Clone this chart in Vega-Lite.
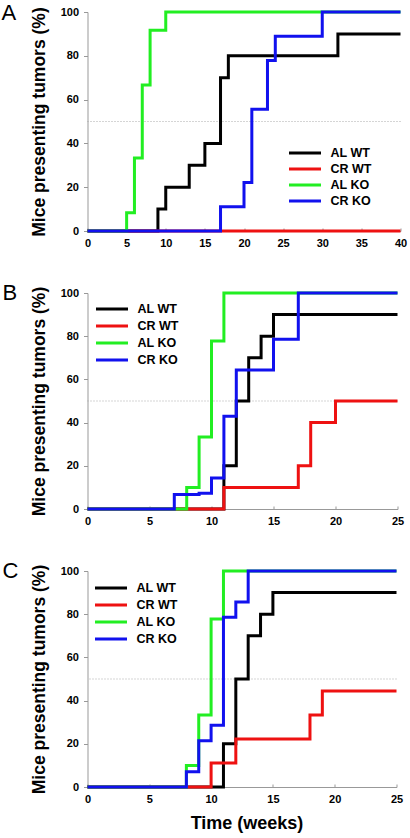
{
  "$schema": "https://vega.github.io/schema/vega-lite/v6.json",
  "background": "white",
  "padding": {"left": 1.5, "top": 2, "right": 2, "bottom": 2},
  "bounds": "flush",
  "spacing": 62,
  "datasets": {
    "A": [
      {"group": "AL WT", "week": 0, "pct": 0}, {"group": "AL WT", "week": 9, "pct": 10}, {"group": "AL WT", "week": 10, "pct": 20}, {"group": "AL WT", "week": 13, "pct": 30}, {"group": "AL WT", "week": 15, "pct": 40}, {"group": "AL WT", "week": 17, "pct": 70}, {"group": "AL WT", "week": 18, "pct": 80}, {"group": "AL WT", "week": 32, "pct": 90}, {"group": "AL WT", "week": 40, "pct": 90},
      {"group": "CR WT", "week": 0, "pct": 0}, {"group": "CR WT", "week": 40, "pct": 0},
      {"group": "AL KO", "week": 0, "pct": 0}, {"group": "AL KO", "week": 5, "pct": 8.3}, {"group": "AL KO", "week": 6, "pct": 33.3}, {"group": "AL KO", "week": 7, "pct": 66.7}, {"group": "AL KO", "week": 8, "pct": 91.7}, {"group": "AL KO", "week": 10, "pct": 100}, {"group": "AL KO", "week": 40, "pct": 100},
      {"group": "CR KO", "week": 0, "pct": 0}, {"group": "CR KO", "week": 17, "pct": 11.1}, {"group": "CR KO", "week": 20, "pct": 22.2}, {"group": "CR KO", "week": 21, "pct": 55.6}, {"group": "CR KO", "week": 23, "pct": 77.8}, {"group": "CR KO", "week": 24, "pct": 88.9}, {"group": "CR KO", "week": 30, "pct": 100}, {"group": "CR KO", "week": 40, "pct": 100}
    ],
    "B": [
      {"group": "AL WT", "week": 0, "pct": 0}, {"group": "AL WT", "week": 11, "pct": 20}, {"group": "AL WT", "week": 12, "pct": 50}, {"group": "AL WT", "week": 13, "pct": 70}, {"group": "AL WT", "week": 14, "pct": 80}, {"group": "AL WT", "week": 15, "pct": 90}, {"group": "AL WT", "week": 25, "pct": 90},
      {"group": "CR WT", "week": 0, "pct": 0}, {"group": "CR WT", "week": 11, "pct": 10}, {"group": "CR WT", "week": 17, "pct": 20}, {"group": "CR WT", "week": 18, "pct": 40}, {"group": "CR WT", "week": 20, "pct": 50}, {"group": "CR WT", "week": 25, "pct": 50},
      {"group": "AL KO", "week": 0, "pct": 0}, {"group": "AL KO", "week": 8, "pct": 10}, {"group": "AL KO", "week": 9, "pct": 33.3}, {"group": "AL KO", "week": 10, "pct": 77.8}, {"group": "AL KO", "week": 11, "pct": 100}, {"group": "AL KO", "week": 25, "pct": 100},
      {"group": "CR KO", "week": 0, "pct": 0}, {"group": "CR KO", "week": 7, "pct": 6.7}, {"group": "CR KO", "week": 9, "pct": 7.3}, {"group": "CR KO", "week": 10, "pct": 14.3}, {"group": "CR KO", "week": 11, "pct": 42.9}, {"group": "CR KO", "week": 12, "pct": 64.3}, {"group": "CR KO", "week": 15, "pct": 78.6}, {"group": "CR KO", "week": 17, "pct": 100}, {"group": "CR KO", "week": 25, "pct": 100}
    ],
    "C": [
      {"group": "AL WT", "week": 0, "pct": 0}, {"group": "AL WT", "week": 11, "pct": 20}, {"group": "AL WT", "week": 12, "pct": 50}, {"group": "AL WT", "week": 13, "pct": 70}, {"group": "AL WT", "week": 14, "pct": 80}, {"group": "AL WT", "week": 15, "pct": 90}, {"group": "AL WT", "week": 25, "pct": 90},
      {"group": "CR WT", "week": 0, "pct": 0}, {"group": "CR WT", "week": 10, "pct": 11.1}, {"group": "CR WT", "week": 12, "pct": 22.2}, {"group": "CR WT", "week": 18, "pct": 33.3}, {"group": "CR WT", "week": 19, "pct": 44.4}, {"group": "CR WT", "week": 25, "pct": 44.4},
      {"group": "AL KO", "week": 0, "pct": 0}, {"group": "AL KO", "week": 8, "pct": 10}, {"group": "AL KO", "week": 9, "pct": 33.3}, {"group": "AL KO", "week": 10, "pct": 77.8}, {"group": "AL KO", "week": 11, "pct": 100}, {"group": "AL KO", "week": 25, "pct": 100},
      {"group": "CR KO", "week": 0, "pct": 0}, {"group": "CR KO", "week": 8, "pct": 7.1}, {"group": "CR KO", "week": 9, "pct": 21.4}, {"group": "CR KO", "week": 10, "pct": 28.6}, {"group": "CR KO", "week": 11, "pct": 78.6}, {"group": "CR KO", "week": 12, "pct": 85.7}, {"group": "CR KO", "week": 13, "pct": 100}, {"group": "CR KO", "week": 25, "pct": 100}
    ]
  },
  "vconcat": [
    {
      "width": 313, "height": 219,
      "title": {"text": "A", "anchor": "start", "frame": "group", "dx": -86, "baseline": "top", "offset": -19},
      "layer": [
        {"data": {"values": [{}]}, "mark": {"type": "rule", "color": "#aaaaaa", "strokeWidth": 1, "strokeDash": [1, 2]}, "encoding": {"y": {"datum": 50}}},
        {"data": {"name": "A"}, "mark": {"type": "line", "interpolate": "step-after", "strokeWidth": 3},
         "encoding": {
           "x": {"field": "week", "type": "quantitative", "scale": {"domain": [0, 40], "nice": false}, "axis": {"values": [0, 5, 10, 15, 20, 25, 30, 35, 40], "title": null}},
           "y": {"field": "pct", "type": "quantitative", "scale": {"domain": [0, 100]}, "axis": {"title": "Mice presenting tumors (%)"}},
           "color": {"field": "group", "type": "nominal", "scale": {"domain": ["AL WT", "CR WT", "AL KO", "CR KO"], "range": ["#000000", "#ee1111", "#22ee22", "#1111ee"]}, "legend": {"orient": "none", "legendX": 200, "legendY": 133, "title": null, "rowPadding": 0}}
         }}
      ]
    },
    {
      "width": 310, "height": 216,
      "title": {"text": "B", "anchor": "start", "frame": "group", "dx": -85, "baseline": "top", "offset": -19},
      "layer": [
        {"data": {"values": [{}]}, "mark": {"type": "rule", "color": "#aaaaaa", "strokeWidth": 1, "strokeDash": [1, 2]}, "encoding": {"y": {"datum": 50}}},
        {"data": {"name": "B"}, "mark": {"type": "line", "interpolate": "step-after", "strokeWidth": 3},
         "encoding": {
           "x": {"field": "week", "type": "quantitative", "scale": {"domain": [0, 25], "nice": false}, "axis": {"values": [0, 5, 10, 15, 20, 25], "title": null}},
           "y": {"field": "pct", "type": "quantitative", "scale": {"domain": [0, 100]}, "axis": {"title": "Mice presenting tumors (%)"}},
           "color": {"field": "group", "type": "nominal", "scale": {"domain": ["AL WT", "CR WT", "AL KO", "CR KO"], "range": ["#000000", "#ee1111", "#22ee22", "#1111ee"]}, "legend": {"orient": "none", "legendX": 7, "legendY": 8, "title": null, "rowPadding": 1}}
         }}
      ]
    },
    {
      "width": 309, "height": 216,
      "title": {"text": "C", "anchor": "start", "frame": "group", "dx": -85, "baseline": "top", "offset": -19},
      "layer": [
        {"data": {"values": [{}]}, "mark": {"type": "rule", "color": "#aaaaaa", "strokeWidth": 1, "strokeDash": [1, 2]}, "encoding": {"y": {"datum": 50}}},
        {"data": {"name": "C"}, "mark": {"type": "line", "interpolate": "step-after", "strokeWidth": 3},
         "encoding": {
           "x": {"field": "week", "type": "quantitative", "scale": {"domain": [0, 25], "nice": false}, "axis": {"values": [0, 5, 10, 15, 20, 25], "title": "Time (weeks)", "titleFontSize": 18, "titlePadding": 10, "titleX": 159}},
           "y": {"field": "pct", "type": "quantitative", "scale": {"domain": [0, 100]}, "axis": {"title": "Mice presenting tumors (%)"}},
           "color": {"field": "group", "type": "nominal", "scale": {"domain": ["AL WT", "CR WT", "AL KO", "CR KO"], "range": ["#000000", "#ee1111", "#22ee22", "#1111ee"]}, "legend": {"orient": "none", "legendX": 6, "legendY": 9, "title": null, "rowPadding": 1}}
         }}
      ]
    }
  ],
  "resolve": {"scale": {"color": "independent"}, "legend": {"color": "independent"}},
  "config": {
    "view": {"stroke": null},
    "font": "Liberation Sans",
    "axis": {"labelFont": "Liberation Sans", "labelFontWeight": "bold", "labelFontSize": 11, "labelColor": "#000000", "titleFont": "Liberation Sans", "titleFontWeight": "bold", "titleFontSize": 17.5, "titleColor": "#000000", "domainColor": "#999999", "tickColor": "#999999", "grid": false},
    "axisY": {"tickSize": 4, "labelPadding": 5, "values": [0, 20, 40, 60, 80, 100], "titlePadding": 12},
    "axisX": {"tickSize": -3, "labelPadding": 9, "labelFlush": false, "titlePadding": 6},
    "legend": {"symbolType": "stroke", "symbolSize": 1024, "symbolStrokeWidth": 3, "labelFont": "Liberation Sans", "labelFontWeight": "bold", "labelFontSize": 12.5, "labelColor": "#000000", "clipHeight": 16, "labelOffset": 8, "padding": 0},
    "title": {"font": "Liberation Sans", "fontSize": 22, "fontWeight": "normal", "color": "#000000"}
  }
}
